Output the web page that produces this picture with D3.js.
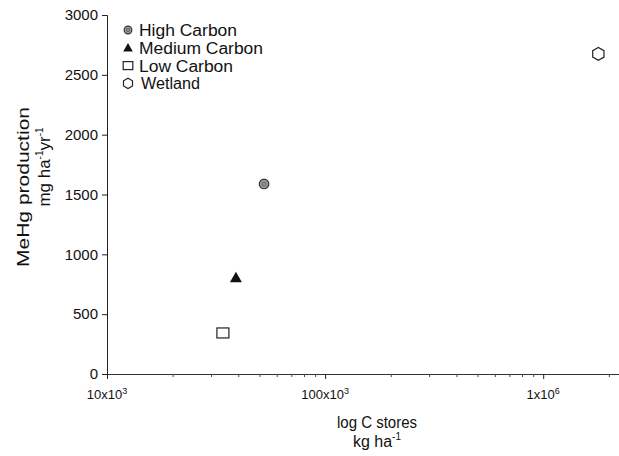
<!DOCTYPE html>
<html>
<head>
<meta charset="utf-8">
<script src="https://cdn.jsdelivr.net/npm/d3@7"></script>
<style>
  body { margin: 0; background: #fff; }
  svg text { font-family: "Liberation Sans", Arial, sans-serif; fill: #111; }
</style>
</head>
<body>
<svg id="chart" width="619" height="456"></svg>
<script>
// data
var categories = ['High Carbon', 'Medium Carbon', 'Low Carbon', 'Wetland'];
var cStores = [52500, 39000, 34000, 1790000];      // kg ha-1
var mehgProd = [1588, 805, 343, 2675];             // mg ha-1 yr-1
var yTicks = [0, 500, 1000, 1500, 2000, 2500, 3000];
var xMajorTicks = [1e4, 1e5, 1e6];
var xTickBase = ['10x10', '100x10', '1x10'];
var xTickExp = ['3', '3', '6'];
var markerKinds = ['circle', 'triangle', 'square', 'hexagon'];
var legendWidths = [98, 124, 94, 59];   // text is a bit stretched in the scan

var svg = d3.select('#chart');

var x = d3.scaleLog().domain([1e4, 2.25e6]).range([107, 620]);
var y = d3.scaleLinear().domain([0, 3000]).range([374, 15]);

// y axis
var yAxis = svg.append('g')
  .attr('transform', 'translate(107,0)')
  .call(d3.axisLeft(y).tickValues(yTicks).tickSize(5).tickPadding(4).tickFormat(d3.format('d')));
yAxis.select('.domain').attr('stroke', '#222');
yAxis.selectAll('.tick line').attr('stroke', '#222');
yAxis.selectAll('.tick text').style('font-size', '15px').attr('fill', '#111');

// x axis (minor ticks 2..9 of each decade)
var minor = [];
[1e4, 1e5, 1e6].forEach(function (d) {
  for (var k = 2; k <= 9; k++) { if (d * k <= 2.25e6) minor.push(d * k); }
});
var xAxisMinor = svg.append('g')
  .attr('transform', 'translate(0,374)')
  .call(d3.axisBottom(x).tickValues(minor).tickSize(3).tickFormat(''));
xAxisMinor.select('.domain').attr('stroke', '#333');
xAxisMinor.selectAll('.tick line').attr('stroke', '#444');

var xAxis = svg.append('g')
  .attr('transform', 'translate(0,374)')
  .call(d3.axisBottom(x).tickValues(xMajorTicks).tickSize(5).tickFormat(''));
xAxis.select('.domain').remove();
xAxis.selectAll('.tick line').attr('stroke', '#222');

// x tick labels with superscript exponents
var xLabels = svg.append('g');
xMajorTicks.forEach(function (v, i) {
  var t = xLabels.append('text')
    .attr('x', x(v))
    .attr('y', 399)
    .attr('text-anchor', 'middle')
    .style('font-size', '13px');
  t.append('tspan').text(xTickBase[i]);
  t.append('tspan').attr('dy', -5).style('font-size', '9px').text(xTickExp[i]);
});

// x axis title
svg.append('text')
  .attr('x', 377).attr('y', 428)
  .attr('text-anchor', 'middle')
  .attr('textLength', 80).attr('lengthAdjust', 'spacingAndGlyphs')
  .style('font-size', '16px')
  .text('log C stores');
var xt2 = svg.append('text')
  .attr('x', 377).attr('y', 447)
  .attr('text-anchor', 'middle')
  .style('font-size', '16px');
xt2.append('tspan').text('kg ha');
xt2.append('tspan').attr('dy', -7).style('font-size', '10px').text('-1');

// y axis title
svg.append('text')
  .attr('transform', 'translate(29,187) rotate(-90)')
  .attr('text-anchor', 'middle')
  .attr('textLength', 160).attr('lengthAdjust', 'spacingAndGlyphs')
  .style('font-size', '16px')
  .text('MeHg production');
var yt2 = svg.append('text')
  .attr('transform', 'translate(50,167) rotate(-90)')
  .attr('text-anchor', 'middle')
  .style('font-size', '17px');
yt2.append('tspan').text('mg ha');
yt2.append('tspan').attr('dy', -7).style('font-size', '10px').text('-1');
yt2.append('tspan').attr('dy', 7).text('yr');
yt2.append('tspan').attr('dy', -7).style('font-size', '10px').text('-1');

// marker drawing
function drawMarker(g, kind, cx, cy, scale) {
  var s = scale || 1;
  if (kind === 'circle') {
    g.append('circle').attr('cx', cx).attr('cy', cy).attr('r', 4.8 * s)
      .attr('fill', '#999').attr('stroke', '#333').attr('stroke-width', 1.2);
    g.append('circle').attr('cx', cx).attr('cy', cy).attr('r', 2 * s)
      .attr('fill', 'none').attr('stroke', '#555').attr('stroke-width', 0.8);
  } else if (kind === 'triangle') {
    var h = 10 * s;
    g.append('path')
      .attr('d', 'M' + cx + ',' + (cy - h * 0.6) + 'L' + (cx + h * 0.6) + ',' + (cy + h * 0.45) +
        'L' + (cx - h * 0.6) + ',' + (cy + h * 0.45) + 'Z')
      .attr('fill', '#111');
  } else if (kind === 'square') {
    g.append('rect').attr('x', cx - 6 * s).attr('y', cy - 5 * s)
      .attr('width', 12 * s).attr('height', 10 * s)
      .attr('fill', '#fff').attr('stroke', '#222').attr('stroke-width', 1.2);
  } else if (kind === 'hexagon') {
    var r = 6.5 * s, pts = [];
    for (var k = 0; k < 6; k++) {
      var a = Math.PI / 6 + k * Math.PI / 3;
      pts.push([cx + r * Math.cos(a), cy + r * Math.sin(a)]);
    }
    g.append('path').attr('d', d3.line()(pts) + 'Z')
      .attr('fill', '#fff').attr('stroke', '#222').attr('stroke-width', 1.2);
  }
}

// points
var pts = svg.append('g').attr('class', 'points');
categories.forEach(function (c, i) {
  drawMarker(pts, markerKinds[i], x(cStores[i]), y(mehgProd[i]), 1);
});

// legend
var legend = svg.append('g').attr('class', 'legend');
categories.forEach(function (c, i) {
  var ly = 30 + i * 17.8;
  drawMarker(legend, markerKinds[i], 128, ly, 0.8);
  legend.append('text')
    .attr('x', i === 3 ? 141 : 139).attr('y', ly + 6)
    .attr('textLength', legendWidths[i]).attr('lengthAdjust', 'spacingAndGlyphs')
    .style('font-size', '16px')
    .text(c);
});
</script>
</body>
</html>
